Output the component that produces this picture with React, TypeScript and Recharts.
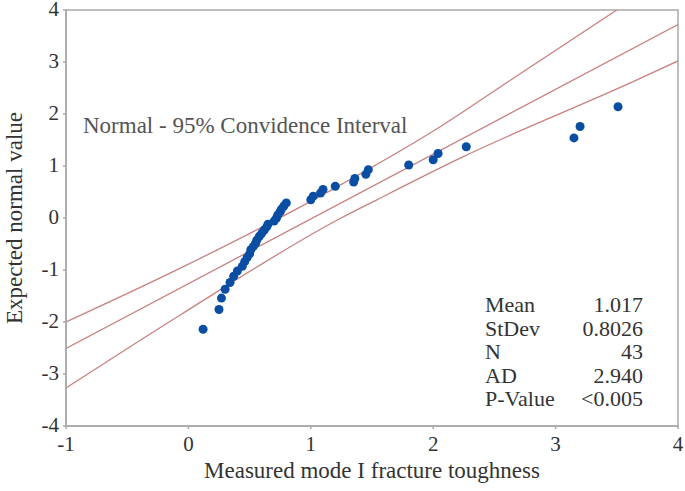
import {
  ComposedChart,
  Line,
  ReferenceArea,
  Scatter,
  XAxis,
  YAxis,
} from "recharts";

// measured toughness (sorted) and its expected normal score
const toughness = [
  0.12, 0.25, 0.27, 0.3, 0.34, 0.37, 0.4, 0.44, 0.46, 0.48, 0.5, 0.51, 0.53,
  0.55, 0.56, 0.58, 0.6, 0.62, 0.64, 0.65, 0.7, 0.72, 0.73, 0.75, 0.76, 0.78,
  0.8, 1.0, 1.02, 1.08, 1.1, 1.2, 1.35, 1.36, 1.45, 1.47, 1.8, 2.0, 2.04, 2.27,
  3.15, 3.2, 3.51,
];
const expected = [
  -2.14, -1.76, -1.54, -1.37, -1.24, -1.12, -1.02, -0.93, -0.84, -0.76, -0.69,
  -0.61, -0.55, -0.48, -0.42, -0.35, -0.29, -0.23, -0.17, -0.12, -0.06, 0,
  0.06, 0.12, 0.17, 0.23, 0.29, 0.35, 0.42, 0.48, 0.55, 0.61, 0.69, 0.76, 0.84,
  0.93, 1.02, 1.12, 1.24, 1.37, 1.54, 1.76, 2.14,
];

const fitX = [-1, 4];
const fitY = [-2.51, 3.72];
const upperX = [-1, -0.07, 1.2, 2.06, 2.63, 3.5];
const upperY = [-2.0, -0.97, 0.58, 1.76, 2.65, 4.0];
const lowerX = [-1, -0.07, 1.24, 1.54, 2.22, 3.66, 4];
const lowerY = [-3.27, -1.87, -0.01, 0.35, 1.15, 2.65, 3.02];

const xTicks = [-1, 0, 1, 2, 3, 4];
const yTicks = [-4, -3, -2, -1, 0, 1, 2, 3, 4];

const statNames = ["Mean", "StDev", "N", "AD", "P-Value"];
const statValues = ["1.017", "0.8026", "43", "2.940", "<0.005"];

const pts = toughness.map((x, i) => ({ x, y: expected[i] }));
const fit = fitX.map((x, i) => ({ x, y: fitY[i] }));
const upper = upperX.map((x, i) => ({ x, y: upperY[i] }));
const lower = lowerX.map((x, i) => ({ x, y: lowerY[i] }));

const font = "Liberation Serif, serif";
const axisGray = "#a9a9a9";
const ciColor = "#c98080";
const statRows = [312, 335.5, 359, 382.5, 406];

const XTick = ({ x, y, payload }: any) => (
  <text x={x} y={y + 20} textAnchor="middle" fontSize={21} fill="#333" fontFamily={font}>
    {payload.value}
  </text>
);

const YTick = ({ x, y, payload }: any) => (
  <text x={x - 2} y={y + 6} textAnchor="end" fontSize={21} fill="#333" fontFamily={font}>
    {payload.value}
  </text>
);

export default function App() {
  return (
    <div style={{ position: "absolute", left: 0, top: 0, background: "#fff" }}>
      <ComposedChart
        width={685}
        height={491}
        margin={{ top: 10, right: 7, bottom: 0, left: 0 }}
      >
        <ReferenceArea
          x1={-1}
          x2={4}
          y1={-4}
          y2={4}
          fill="none"
          stroke={axisGray}
          strokeWidth={1.5}
        />
        <XAxis
          type="number"
          dataKey="x"
          domain={[-1, 4]}
          ticks={xTicks}
          allowDataOverflow
          height={65}
          tickSize={3}
          stroke={axisGray}
          strokeWidth={1.5}
          tick={<XTick />}
        />
        <YAxis
          type="number"
          dataKey="y"
          domain={[-4, 4]}
          ticks={yTicks}
          allowDataOverflow
          width={66}
          tickSize={3}
          stroke={axisGray}
          strokeWidth={1.5}
          tick={<YTick />}
        />
        <Line
          data={upper}
          dataKey="y"
          type="monotone"
          stroke={ciColor}
          strokeWidth={1.3}
          dot={false}
          isAnimationActive={false}
        />
        <Line
          data={fit}
          dataKey="y"
          type="linear"
          stroke={ciColor}
          strokeWidth={1.3}
          dot={false}
          isAnimationActive={false}
        />
        <Line
          data={lower}
          dataKey="y"
          type="monotone"
          stroke={ciColor}
          strokeWidth={1.3}
          dot={false}
          isAnimationActive={false}
        />
        <Scatter
          data={pts}
          dataKey="y"
          fill="#0a4ea3"
          shape={(p: any) => <circle cx={p.cx} cy={p.cy} r={4.5} fill="#0a4ea3" />}
          isAnimationActive={false}
        />
        <text x={83} y={133} fontSize={23} fill="#555" fontFamily={font}>
          Normal - 95% Convidence Interval
        </text>
        {statNames.map((s, i) => (
          <text key={s} x={485} y={statRows[i]} fontSize={22} fill="#333" fontFamily={font}>
            {s}
          </text>
        ))}
        {statValues.map((s, i) => (
          <text
            key={"v" + i}
            x={643}
            y={statRows[i]}
            fontSize={22}
            fill="#333"
            textAnchor="end"
            fontFamily={font}
          >
            {s}
          </text>
        ))}
        <text x={372} y={478} fontSize={23} fill="#333" textAnchor="middle" fontFamily={font}>
          Measured mode I fracture toughness
        </text>
        <text
          x={22}
          y={218}
          fontSize={23}
          fill="#333"
          textAnchor="middle"
          fontFamily={font}
          transform="rotate(-90 22 218)"
        >
          Expected normal value
        </text>
      </ComposedChart>
    </div>
  );
}
